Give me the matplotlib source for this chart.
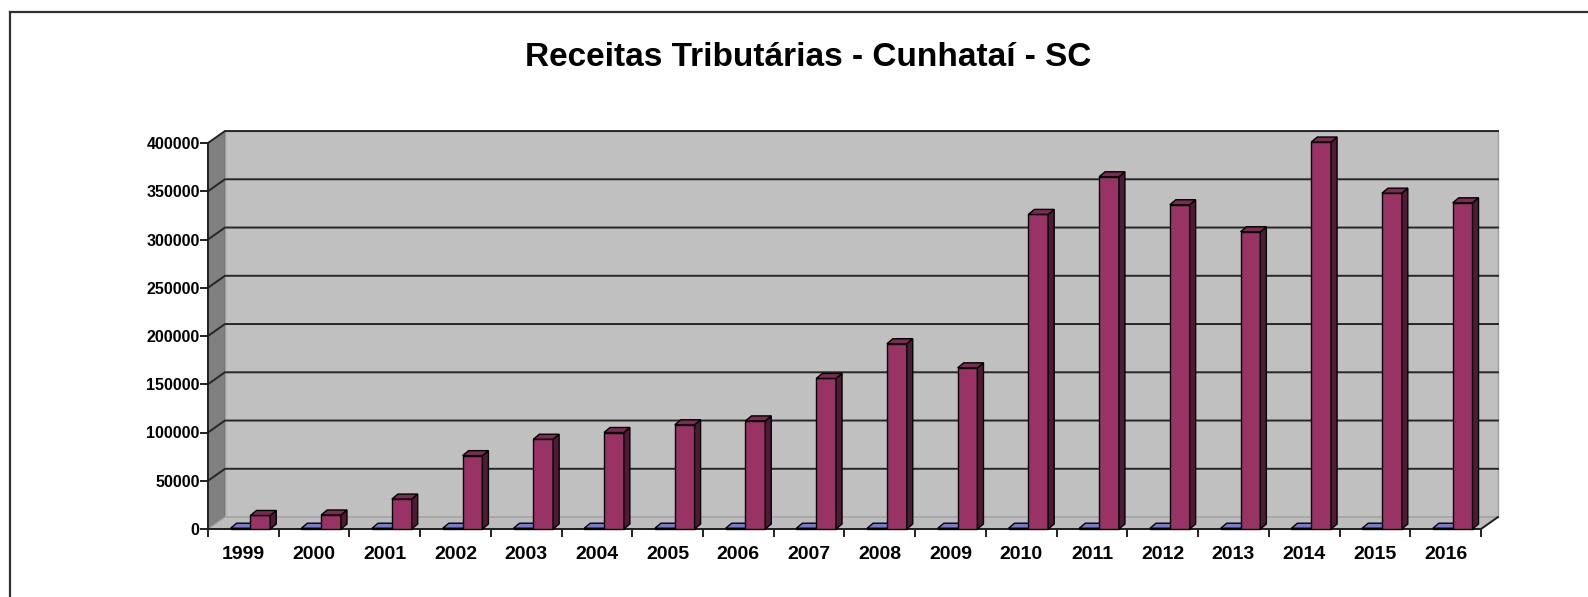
import numpy as np
import matplotlib.pyplot as plt
from matplotlib.patches import Polygon
from matplotlib.lines import Line2D

# Data
years = ['1999', '2000', '2001', '2002', '2003', '2004', '2005', '2006', '2007',
         '2008', '2009', '2010', '2011', '2012', '2013', '2014', '2015', '2016']
receitas = [14000, 14500, 31000, 76000, 93000, 100000, 108000, 112000, 156000,
            192000, 167000, 326000, 365000, 336000, 308000, 401000, 348000, 338000]
serie_azul = [800] * len(years)
yticks = np.arange(0, 400001, 50000)

plt.rcParams['font.family'] = ['Liberation Sans', 'DejaVu Sans']

fig = plt.figure(figsize=(15.88, 5.97), dpi=100)
W, H = 1588, 597
ax = fig.add_axes([208 / W, (H - 529) / H, (1481 - 208) / W, (529 - 143) / H])

n = len(years)
x = np.arange(n)
xmin, xmax = -0.5, n - 0.5
ymax = 400000

# 3D depth offsets (data units)
DX, DY = 0.24, 12400      # walls
bdx, bdy = 0.085, 5200    # bars
bw = 0.28

# side wall, back wall, floor
ax.add_patch(Polygon([(xmin, 0), (xmin + DX, DY), (xmin + DX, ymax + DY), (xmin, ymax)],
                     closed=True, fc='#808080', ec='#606060', lw=0.8, clip_on=False, zorder=1))
ax.add_patch(Polygon([(xmin + DX, DY), (xmax + DX, DY), (xmax + DX, ymax + DY), (xmin + DX, ymax + DY)],
                     closed=True, fc='#c0c0c0', ec='#a0a0a0', lw=1.0, clip_on=False, zorder=1))
ax.add_patch(Polygon([(xmin, 0), (xmax, 0), (xmax + DX, DY), (xmin + DX, DY)],
                     closed=True, fc='#bdbdbd', ec='#a0a0a0', lw=1.0, clip_on=False, zorder=1))

# gridlines (front tick -> back wall -> across)
for v in yticks[1:]:
    ax.plot([xmin, xmin + DX, xmax + DX], [v, v + DY, v + DY], color='#262626',
            lw=1.4, clip_on=False, zorder=2)

# floor front and right edge
ax.plot([xmin, xmax, xmax + DX], [0, 0, DY], color='#202020', lw=1.4, clip_on=False, zorder=2)


def bar3d(left, vals, front, side, top):
    ax.bar(left, vals, width=bw, align='edge', color=front, edgecolor='black',
           lw=1.0, zorder=3, clip_on=False)
    for l, v in zip(left, vals):
        r = l + bw
        ax.add_patch(Polygon([(r, 0), (r + bdx, bdy), (r + bdx, v + bdy), (r, v)],
                             closed=True, fc=side, ec='black', lw=1.0, zorder=3, clip_on=False))
        ax.add_patch(Polygon([(l, v), (r, v), (r + bdx, v + bdy), (l + bdx, v + bdy)],
                             closed=True, fc=top, ec='black', lw=1.0, zorder=3, clip_on=False))


bar3d(x - 0.18, serie_azul, '#9999ff', '#4d4d80', '#7a7acc')
bar3d(x + 0.1, receitas, '#993366', '#4f1a35', '#7d2a54')

ax.set_xlim(xmin, xmax)
ax.set_ylim(0, ymax)
for s in ['top', 'right']:
    ax.spines[s].set_visible(False)
ax.spines['bottom'].set_visible(False)
ax.spines['left'].set_color('#202020')
ax.spines['left'].set_linewidth(1.4)
ax.spines['left'].set_zorder(4)

ax.set_yticks(yticks)
ax.set_yticklabels([str(v) for v in yticks], fontsize=11.5, fontweight='bold')
ax.tick_params(axis='y', direction='out', length=6, width=1.4, pad=0, color='#202020')

ax.set_xticks(np.arange(n + 1) - 0.5)
ax.set_xticklabels([''] * (n + 1))
ax.set_xticks(x, minor=True)
ax.set_xticklabels(years, minor=True, fontsize=14, fontweight='bold')
ax.tick_params(axis='x', which='major', direction='out', length=6, width=1.4, color='#202020')
ax.tick_params(axis='x', which='minor', length=0, pad=12)

fig.text(808 / W, 1 - 57 / H, 'Receitas Tributárias - Cunhataí - SC', ha='center', va='center',
         fontsize=24, fontweight='bold')

# outer chart border (top and left visible)
fig.add_artist(Line2D([10 / W, 1], [1 - 12 / H, 1 - 12 / H], color='#303030', lw=1.6))
fig.add_artist(Line2D([10 / W, 10 / W], [0, 1 - 12 / H], color='#303030', lw=1.6))

fig.savefig('out.png', dpi=100)
